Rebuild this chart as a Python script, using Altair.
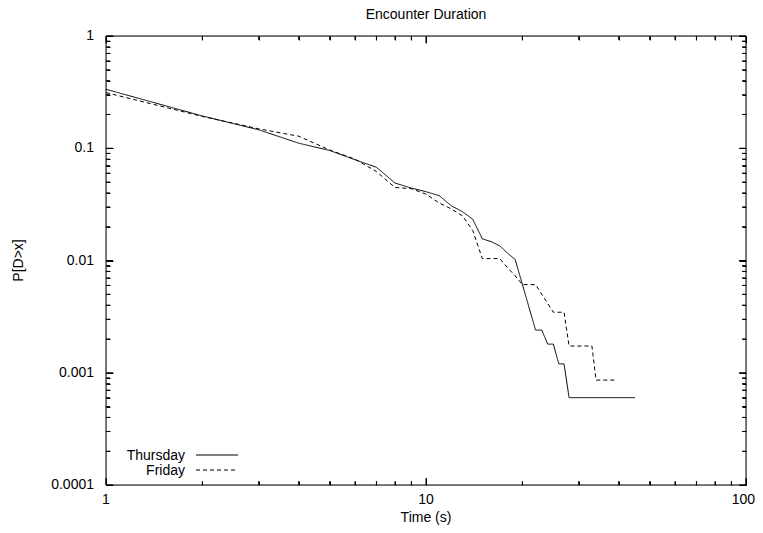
import altair as alt
import pandas as pd

# ---- data ----
thu_x = [1, 2, 3, 4, 5, 6, 7, 8, 9, 10, 11, 12, 13, 14, 15, 16, 17, 18, 19, 22, 23, 24, 25, 26, 27, 28, 45]
thu_y = [0.335, 0.194, 0.146, 0.111, 0.0955, 0.079, 0.0677, 0.0490, 0.0442, 0.0410, 0.0378, 0.0307,
         0.0272, 0.0233, 0.0156, 0.0147, 0.0135, 0.0116, 0.0102, 0.0024, 0.0024, 0.0018, 0.0018,
         0.0012, 0.0012, 0.0006, 0.0006]

fri_x = [1, 2, 3, 4, 5, 6, 7, 8, 9, 10, 11, 12, 13, 14, 15, 16, 17, 18, 19, 20, 22, 25, 27, 28, 33, 34, 39]
fri_y = [0.313, 0.192, 0.149, 0.128, 0.0965, 0.080, 0.062, 0.0447, 0.0436, 0.0390, 0.0325, 0.0288,
         0.0250, 0.0185, 0.0104, 0.0104, 0.0104, 0.0086, 0.0073, 0.0061, 0.0061, 0.00346, 0.00346,
         0.00173, 0.00173, 0.00086, 0.00086]

x_major = [1, 10, 100]
x_major_labels = ["1", "10", "100"]
x_minor = [2, 3, 4, 5, 6, 7, 8, 9, 20, 30, 40, 50, 60, 70, 80, 90]
y_major = [0.0001, 0.001, 0.01, 0.1, 1]
y_major_labels = ["0.0001", "0.001", "0.01", "0.1", "1"]
y_minor = [0.0002, 0.0003, 0.0004, 0.0005, 0.0006, 0.0007, 0.0008, 0.0009,
           0.002, 0.003, 0.004, 0.005, 0.006, 0.007, 0.008, 0.009,
           0.02, 0.03, 0.04, 0.05, 0.06, 0.07, 0.08, 0.09,
           0.2, 0.3, 0.4, 0.5, 0.6, 0.7, 0.8, 0.9]

series = ["Thursday", "Friday"]

W, H = 640, 449
FONT = "Liberation Sans"
FS = 14
MAJ, MIN = 7, 4

df = pd.concat([
    pd.DataFrame({"series": "Thursday", "x": thu_x, "y": thu_y, "order": range(len(thu_x))}),
    pd.DataFrame({"series": "Friday", "x": fri_x, "y": fri_y, "order": range(len(fri_x))}),
])

xs = alt.Scale(type="log", domain=[1, 100], nice=False)
ys = alt.Scale(type="log", domain=[0.0001, 1], nice=False)

one = alt.Data(values=[{"a": 1}])

# plot frame
frame = alt.Chart(one).mark_rect(fill="transparent", stroke="black", strokeWidth=1).encode(
    x=alt.value(0), x2=alt.value(W), y=alt.value(0), y2=alt.value(H))

lines = alt.Chart(df).mark_line(color="black", strokeWidth=1, clip=True).encode(
    x=alt.X("x:Q", scale=xs, axis=None),
    y=alt.Y("y:Q", scale=ys, axis=None),
    strokeDash=alt.StrokeDash("series:N", scale=alt.Scale(domain=series, range=[[1, 0], [4, 3]]), legend=None),
    detail="series:N",
    order="order:Q",
)

layers = [frame, lines]


def tick_axis(vals, orient, length):
    # an axis that only draws ticks, pulled inside the frame so the ticks point inward
    return alt.Axis(orient=orient, values=vals, labels=False, domain=False, grid=False,
                    ticks=True, tickSize=length, tickColor="black", tickWidth=1,
                    offset=-length, title="", zindex=1)


for vals, length in [(x_major, MAJ), (x_minor, MIN)]:
    d = pd.DataFrame({"v": vals})
    layers.append(alt.Chart(d).mark_rule(color="black", strokeWidth=1).encode(
        x=alt.X("v:Q", scale=xs, axis=tick_axis(vals, "bottom", length)),
        y=alt.value(H), y2=alt.value(H - length)))
    layers.append(alt.Chart(d).mark_rule(color="black", strokeWidth=1).encode(
        x=alt.X("v:Q", scale=xs, axis=tick_axis(vals, "top", length)),
        y=alt.value(0), y2=alt.value(length)))
for vals, length in [(y_major, MAJ), (y_minor, MIN)]:
    d = pd.DataFrame({"v": vals})
    layers.append(alt.Chart(d).mark_rule(color="black", strokeWidth=1).encode(
        y=alt.Y("v:Q", scale=ys, axis=tick_axis(vals, "left", length)),
        x=alt.value(0), x2=alt.value(length)))
    layers.append(alt.Chart(d).mark_rule(color="black", strokeWidth=1).encode(
        y=alt.Y("v:Q", scale=ys, axis=tick_axis(vals, "right", length)),
        x=alt.value(W), x2=alt.value(W - length)))

# tick labels
xl = pd.DataFrame({"v": x_major[:-1], "t": x_major_labels[:-1]})
layers.append(alt.Chart(xl).mark_text(font=FONT, fontSize=FS, color="black", align="center", baseline="middle").encode(
    x=alt.X("v:Q", scale=xs, axis=None), y=alt.value(H + 15), text="t:N"))
xl_last = pd.DataFrame({"v": x_major[-1:], "t": x_major_labels[-1:]})
layers.append(alt.Chart(xl_last).mark_text(font=FONT, fontSize=FS, color="black", align="right", baseline="middle", dx=9).encode(
    x=alt.X("v:Q", scale=xs, axis=None), y=alt.value(H + 15), text="t:N"))
yl = pd.DataFrame({"v": y_major, "t": y_major_labels})
layers.append(alt.Chart(yl).mark_text(font=FONT, fontSize=FS, color="black", align="right", baseline="middle").encode(
    y=alt.Y("v:Q", scale=ys, axis=None), x=alt.value(-12), text="t:N"))

# axis titles
layers.append(alt.Chart(one).mark_text(text="Time (s)", font=FONT, fontSize=FS, color="black",
                                       align="center", baseline="middle").encode(
    x=alt.value(W / 2), y=alt.value(H + 33)))
layers.append(alt.Chart(one).mark_text(text="P[D>x]", font=FONT, fontSize=FS, color="black",
                                       align="center", baseline="middle", angle=270).encode(
    x=alt.value(-87), y=alt.value(H / 2)))

# key (gnuplot style: label on the left, sample on the right)
for i, (name, dash) in enumerate(zip(series, [[1, 0], [4, 3]])):
    yy = 419 + 15 * i
    layers.append(alt.Chart(one).mark_text(
        text=name, align="right", baseline="middle", font=FONT, fontSize=FS, color="black"
    ).encode(x=alt.value(79), y=alt.value(yy + 1)))
    layers.append(alt.Chart(one).mark_rule(color="black", strokeWidth=1, strokeDash=dash).encode(
        x=alt.value(90), x2=alt.value(132), y=alt.value(yy)))

chart = alt.layer(*layers).resolve_axis(x="independent", y="independent").properties(
    width=W, height=H,
    title=alt.TitleParams("Encounter Duration", font=FONT, fontSize=FS, fontWeight="normal",
                          color="black", anchor="middle", offset=7),
    padding={"left": 98, "top": 28, "right": 9, "bottom": 40},
    autosize=alt.AutoSizeParams(type="none"),
).configure(background="white")

chart.save("out.html", embed_options={"renderer": "svg", "actions": False})
